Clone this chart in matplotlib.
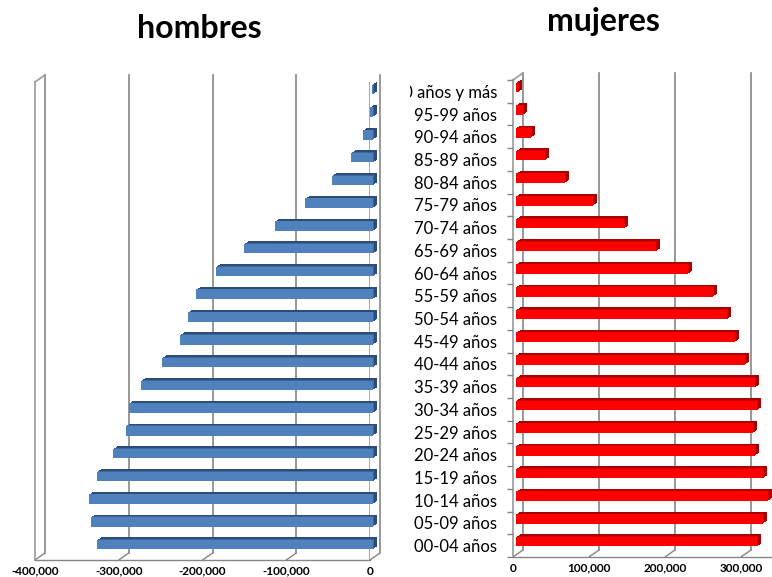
import matplotlib
matplotlib.use("Agg")
import matplotlib.pyplot as plt
from matplotlib.transforms import offset_copy, Bbox, TransformedBbox
from matplotlib.patches import ConnectionPatch
from matplotlib.ticker import FuncFormatter

plt.rcParams['font.family'] = ['Lato', 'DejaVu Sans']

categories = ["00-04 años", "05-09 años", "10-14 años", "15-19 años", "20-24 años",
              "25-29 años", "30-34 años", "35-39 años", "40-44 años", "45-49 años",
              "50-54 años", "55-59 años", "60-64 años", "65-69 años", "70-74 años",
              "75-79 años", "80-84 años", "85-89 años", "90-94 años", "95-99 años",
              "100 años y más"]
hombres = [-330000, -336700, -339000, -330000, -310000, -295300, -291000, -277400,
           -251500, -230400, -220500, -211000, -187800, -153700, -117000, -80800,
           -49300, -26600, -11500, -3600, -1500]
mujeres = [317000, 325000, 331600, 325000, 314500, 311800, 317000, 314500,
           301300, 288000, 277600, 259600, 226700, 184000, 142000, 100900,
           64500, 38200, 19700, 9200, 3000]
ticks_h = [-400000, -300000, -200000, -100000, 0]
ticks_m = [0, 100000, 200000, 300000]

W, H = 772, 577
fig = plt.figure(figsize=(W / 100, H / 100), dpi=100)

def px_axes(x0, x1, ytop, ybot):
    return fig.add_axes([x0 / W, 1 - ybot / H, (x1 - x0) / W, (ybot - ytop) / H])

GRID = '#868686'
WALL = '#9a9a9a'
ypos = list(range(len(categories)))
fmt = FuncFormatter(lambda v, p: f"{int(v):,}")

def build(ax, values, xticks, xlim, front, top, side, side_x):
    ax.set_xlim(*xlim)
    ax.set_ylim(-0.5, len(categories) - 0.5)
    for s in ax.spines.values():
        s.set_visible(False)
    back_t = offset_copy(ax.transData, fig=fig, x=10, y=7, units='dots')
    for xv in xticks:
        ax.plot([xv, xv], [-0.5, len(categories) - 0.5], color=GRID, lw=1.2,
                transform=back_t, zorder=0.5, clip_on=False)
        cp = ConnectionPatch(xyA=(xv, -0.5), coordsA=ax.transData,
                             xyB=(xv, -0.5), coordsB=back_t,
                             color=GRID, lw=1.0, zorder=0.5)
        ax.add_artist(cp)
    ax.plot(xlim, [-0.5, -0.5], color=GRID, lw=1.0, zorder=0.6, clip_on=False)
    ax.plot([side_x, side_x], [-0.5, len(categories) - 0.5], color=WALL, lw=1.2,
            zorder=0.6, clip_on=False)
    cp = ConnectionPatch(xyA=(side_x, len(categories) - 0.5), coordsA=ax.transData,
                         xyB=(side_x, len(categories) - 0.5), coordsB=back_t,
                         color=WALL, lw=1.2, zorder=0.6)
    ax.add_artist(cp)
    # extruded bars: layers from back to front
    steps = [(7.0, 6.5, side), (6.0, 5.9, side), (5.0, 5.2, side), (4.0, 4.6, top)]
    for k, (dx, dy, col) in enumerate(steps):
        t = offset_copy(ax.transData, fig=fig, x=dx, y=dy, units='dots')
        ax.barh(ypos, values, height=0.42, color=col, transform=t, zorder=1.5 + 0.1 * k,
                clip_on=False, linewidth=0)
    t_front = offset_copy(ax.transData, fig=fig, x=3, y=4, units='dots')
    ax.barh(ypos, values, height=0.42, color=front, transform=t_front, zorder=2,
            clip_on=False, linewidth=0)
    ax.set_xticks(xticks)
    ax.xaxis.set_major_formatter(fmt)
    ax.tick_params(axis='x', length=0, pad=4, labelsize=8.5)
    for lab in ax.get_xticklabels():
        lab.set_fontweight('bold')

axh = px_axes(35, 370, 82, 560)
build(axh, hombres, ticks_h, (-400000, 0), '#4F81BD', '#3D6699', '#2C4D78', -400000)
axh.plot([0, 0], [-0.5, len(categories) - 0.5], color=WALL, lw=1.2, zorder=0.6)
axh.set_yticks([])

axm = px_axes(513, 771, 80, 557)
build(axm, mujeres, ticks_m, (0, 339500), '#FF0000', '#D80000', '#A80000', 0)
axm.set_yticks(ypos)
axm.set_yticklabels(categories)
axm.set_yticks([y + 0.5 for y in ypos[:-1]] + [-0.5, len(categories) - 0.5], minor=True)
axm.tick_params(axis='y', which='major', length=0, pad=11.5, labelsize=12)
axm.tick_params(axis='y', which='minor', length=4.3, width=1.0, color=GRID, direction='out')
clip = TransformedBbox(Bbox.from_extents(410 / W, 0, 1, 1), fig.transFigure)
for lab in axm.get_yticklabels():
    lab.set_clip_on(True)
    lab.set_clip_box(clip)

fig.text(199 / W, 1 - 29 / H, 'hombres', ha='center', va='center',
         fontsize=23, fontweight='bold')
fig.text(603 / W, 1 - 22 / H, 'mujeres', ha='center', va='center',
         fontsize=23, fontweight='bold')

fig.savefig('out.png', dpi=100)
